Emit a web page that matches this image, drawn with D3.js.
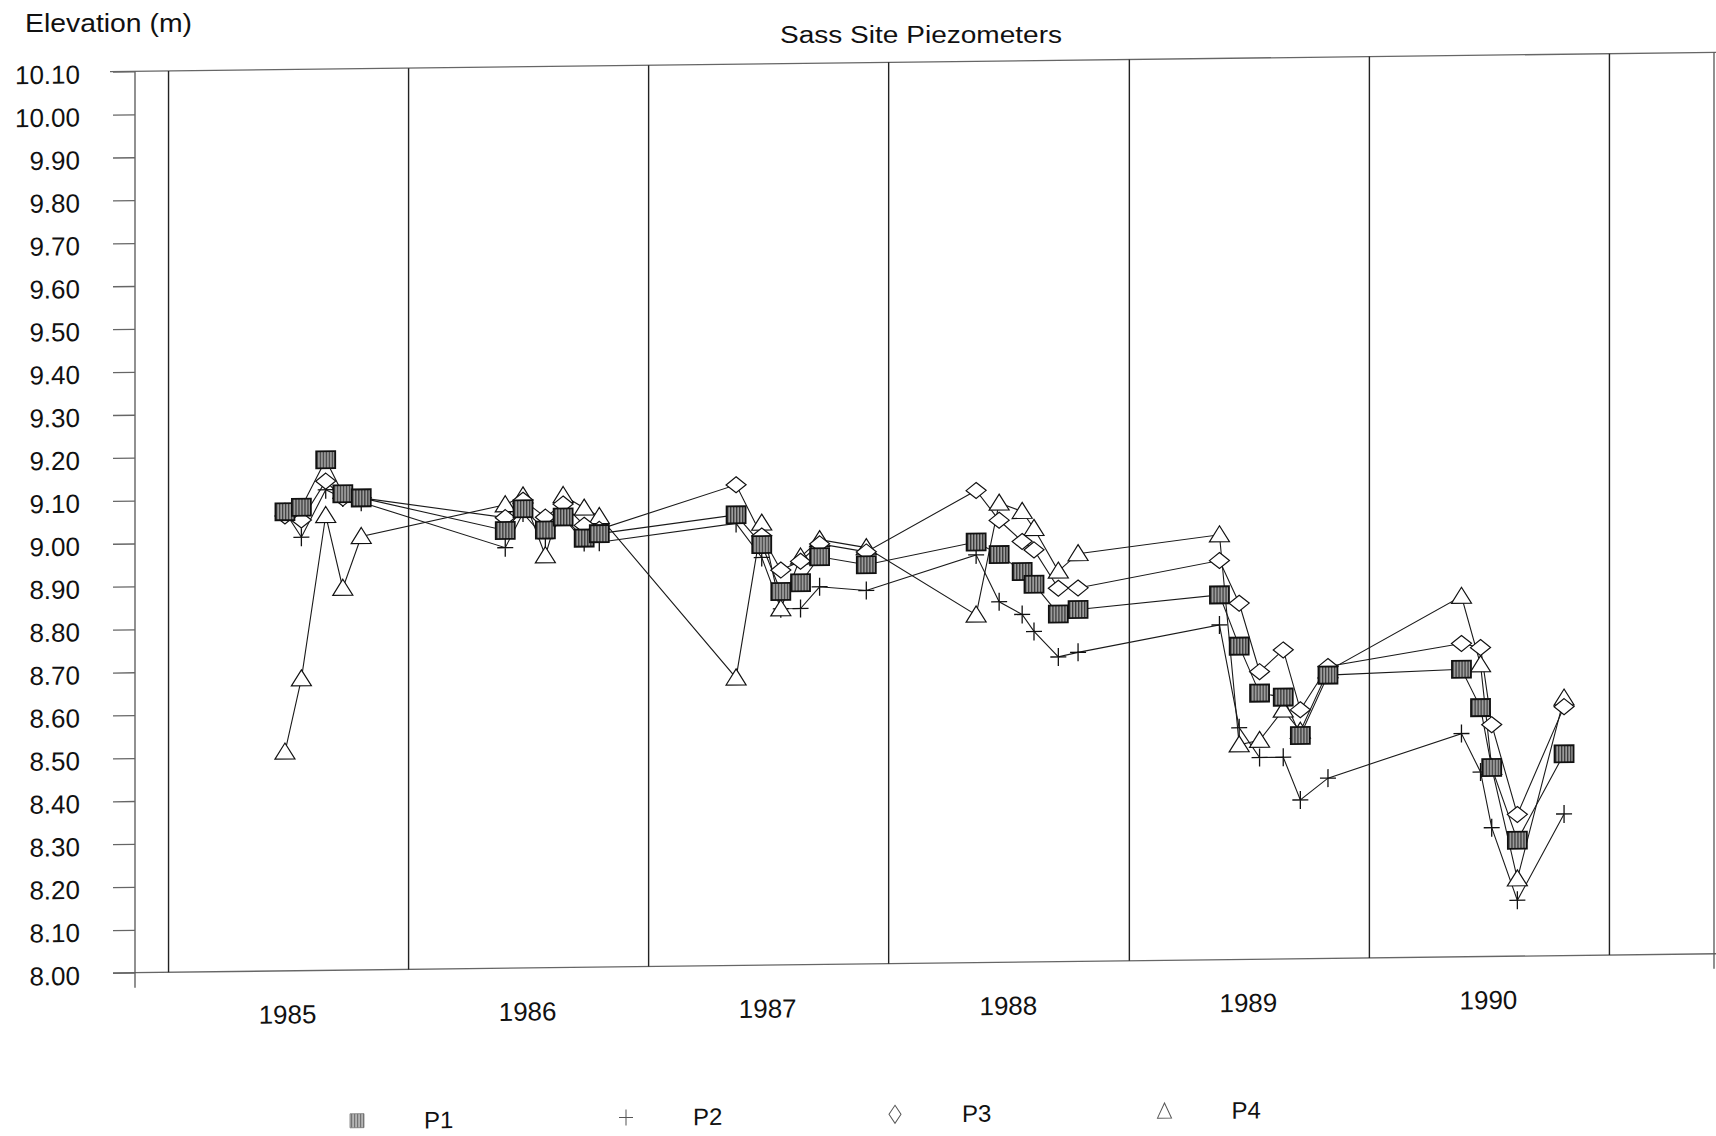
<!DOCTYPE html>
<html>
<head>
<meta charset="utf-8">
<script src="https://cdn.jsdelivr.net/npm/d3@7"></script>
<style>
  html, body { margin: 0; padding: 0; background: #fff; }
  text { font-family: "Liberation Sans", Arial, Helvetica, sans-serif; fill: #111; }
</style>
</head>
<body>
<svg id="chart" width="1716" height="1136"></svg>
<script>
// Sampling dates shared by all four piezometers
const sampleDates = [
  "1985-06-27", "1985-07-22", "1985-08-28", "1985-09-23", "1985-10-21",
  "1986-05-28", "1986-06-24", "1986-07-28", "1986-08-24", "1986-09-25", "1986-10-18",
  "1987-05-14", "1987-06-22", "1987-07-21", "1987-08-20", "1987-09-18", "1987-11-28",
  "1988-05-13", "1988-06-17", "1988-07-22", "1988-08-09", "1988-09-15", "1988-10-15",
  "1989-05-18", "1989-06-17", "1989-07-18", "1989-08-23", "1989-09-18", "1989-10-30",
  "1990-05-21", "1990-06-19", "1990-07-06", "1990-08-14", "1990-10-24"
];

// Water level elevations (m)
const p1 = [9.07, 9.08, 9.19, 9.11, 9.10,
            9.02, 9.07, 9.02, 9.05, 9.00, 9.01,
            9.05, 8.98, 8.87, 8.89, 8.95, 8.93,
            8.98, 8.95, 8.91, 8.88, 8.81, 8.82,
            8.85, 8.73, 8.62, 8.61, 8.52, 8.66,
            8.67, 8.58, 8.44, 8.27, 8.47];
const p2 = [9.07, 9.01, 9.12, 9.10, 9.09,
            8.98, 9.06, 9.00, 9.05, 8.99, 8.99,
            9.03, 8.95, 8.83, 8.83, 8.88, 8.87,
            8.95, 8.84, 8.81, 8.77, 8.71, 8.72,
            8.78, 8.54, 8.47, 8.47, 8.37, 8.42,
            8.52, 8.43, 8.30, 8.13, 8.33];
const p3 = [9.06, 9.05, 9.14, 9.10, 9.10,
            9.05, 9.09, 9.05, 9.08, 9.03, 9.02,
            9.12, 9.00, 8.92, 8.94, 8.98, 8.96,
            9.10, 9.03, 8.98, 8.96, 8.87, 8.87,
            8.93, 8.83, 8.67, 8.72, 8.58, 8.68,
            8.73, 8.72, 8.54, 8.33, 8.58];
const p4 = [8.51, 8.68, 9.06, 8.89, 9.01,
            9.08, 9.10, 8.96, 9.10, 9.07, 9.05,
            8.67, 9.03, 8.83, 8.95, 8.99, 8.97,
            8.81, 9.07, 9.05, 9.01, 8.91, 8.95,
            8.99, 8.50, 8.51, 8.58, 8.53, 8.67,
            8.84, 8.68, 8.44, 8.18, 8.60];

const seriesNames = ["P1", "P2", "P3", "P4"];
const yearLabels = ["1985", "1986", "1987", "1988", "1989", "1990"];
const yTickValues = d3.range(0, 22).map(i => +(8 + i * 0.1).toFixed(2));

const parse = d3.timeParse("%Y-%m-%d");
const dates = sampleDates.map(parse);

const svg = d3.select("#chart");
svg.append("rect").attr("width", 1716).attr("height", 1136).attr("fill", "#fff");

// Frame geometry
const plotLeft = 135, plotRight = 1714, plotTop = 71.4, plotBottom = 972.7;
const x = d3.scaleTime()
  .domain([new Date(1984, 10, 11), new Date(1991, 5, 9)])
  .range([plotLeft, plotRight]);
const y = d3.scaleLinear().domain([8.0, 10.1]).range([plotBottom, plotTop]);

// Titles (upright)
svg.append("text")
  .attr("x", 25).attr("y", 32)
  .attr("font-size", 26)
  .attr("textLength", 167).attr("lengthAdjust", "spacingAndGlyphs")
  .text("Elevation (m)");
svg.append("text")
  .attr("x", 780).attr("y", 43)
  .attr("font-size", 23)
  .attr("textLength", 282).attr("lengthAdjust", "spacingAndGlyphs")
  .text("Sass Site Piezometers");

// The plotting sheet leans slightly: everything else sits in a sheared group
const slope = -0.012;
const g = svg.append("g")
  .attr("transform", `matrix(1, ${slope}, 0, 1, 0, ${-slope * plotLeft})`);

// Marker fill textures
const defs = svg.append("defs");
const pat = defs.append("pattern")
  .attr("id", "stipple").attr("patternUnits", "userSpaceOnUse")
  .attr("width", 3).attr("height", 3);
pat.append("rect").attr("width", 3).attr("height", 3).attr("fill", "#9c9c9c");
pat.append("rect").attr("width", 1.2).attr("height", 3).attr("fill", "#3a3a3a");
const patL = defs.append("pattern")
  .attr("id", "stippleLight").attr("patternUnits", "userSpaceOnUse")
  .attr("width", 3).attr("height", 3);
patL.append("rect").attr("width", 3).attr("height", 3).attr("fill", "#b4b4b4");
patL.append("rect").attr("width", 1).attr("height", 3).attr("fill", "#6a6a6a");

// Frame lines
g.append("line").attr("x1", 110).attr("x2", 1716).attr("y1", plotTop).attr("y2", plotTop)
  .attr("stroke", "#666").attr("stroke-width", 1.3);
g.append("line").attr("x1", 113).attr("x2", 1716).attr("y1", plotBottom).attr("y2", plotBottom)
  .attr("stroke", "#666").attr("stroke-width", 1.3);
g.append("line").attr("x1", plotLeft).attr("x2", plotLeft).attr("y1", plotTop).attr("y2", plotBottom + 15)
  .attr("stroke", "#555").attr("stroke-width", 1.3);
g.append("line").attr("x1", plotRight).attr("x2", plotRight).attr("y1", plotTop).attr("y2", plotBottom + 15)
  .attr("stroke", "#555").attr("stroke-width", 1.3);

// Year boundaries
const yearStarts = d3.timeYear.range(new Date(1985, 0, 1), new Date(1991, 0, 2));
g.selectAll("line.year").data(yearStarts).join("line")
  .attr("class", "year")
  .attr("x1", d => x(d)).attr("x2", d => x(d))
  .attr("y1", plotTop).attr("y2", plotBottom)
  .attr("stroke", "#222").attr("stroke-width", 1.4);

// Y axis
const yAxis = d3.axisLeft(y)
  .tickValues(yTickValues)
  .tickFormat(d3.format(".2f"))
  .tickSize(22)
  .tickPadding(33);
const ya = g.append("g").attr("transform", `translate(${plotLeft},0)`).call(yAxis);
ya.select(".domain").remove();
ya.selectAll(".tick line").attr("stroke", "#666").attr("stroke-width", 1.3);
ya.selectAll(".tick text")
  .attr("font-size", 26)
  .attr("font-family", "'Liberation Sans', Arial, sans-serif")
  .attr("fill", "#111")
  .attr("dy", "0.42em");

// Year labels centred in each year band
g.selectAll("text.yr").data(yearLabels).join("text")
  .attr("class", "yr")
  .attr("x", d => x(new Date(+d, 6, 1)))
  .attr("y", 1025.3)
  .attr("text-anchor", "middle")
  .attr("font-size", 26)
  .text(d => d);

// Series lines
const values = [p1, p2, p3, p4];
const series = values.map((vals, i) => ({
  name: seriesNames[i],
  points: vals.map((v, j) => ({ date: dates[j], v }))
}));
const line = d3.line().defined(d => d.v != null).x(d => x(d.date)).y(d => y(d.v));
g.selectAll("path.series").data(series).join("path")
  .attr("class", "series")
  .attr("d", d => line(d.points))
  .attr("fill", "none")
  .attr("stroke", "#1a1a1a")
  .attr("stroke-width", 1.1);

// Marker shapes
const markerPath = {
  P2: "M-8,0H8M0,-9V9",
  P3: "M0,-8L10,0L0,8L-10,0Z",
  P4: "M0,-9L10,7L-10,7Z"
};
function drawMarkers(name) {
  const s = series.find(d => d.name === name);
  const sel = g.append("g").attr("class", "markers-" + name)
    .selectAll("g").data(s.points.filter(d => d.v != null)).join("g")
    .attr("transform", d => `translate(${x(d.date)},${y(d.v)})`);
  if (name === "P1") {
    sel.append("rect").attr("x", -9.5).attr("y", -8.5).attr("width", 19).attr("height", 17)
      .attr("fill", "url(#stipple)").attr("stroke", "#111").attr("stroke-width", 1.8);
  } else if (name === "P2") {
    sel.append("path").attr("d", markerPath.P2).attr("fill", "none")
      .attr("stroke", "#111").attr("stroke-width", 1.3);
  } else {
    sel.append("path").attr("d", markerPath[name]).attr("fill", "#fff")
      .attr("stroke", "#111").attr("stroke-width", 1.2);
  }
}
["P2", "P4", "P3", "P1"].forEach(n => drawMarkers(n));

// Legend
const legendX = [357, 626, 895, 1164.5];
const legendY = 1123.4;
const lg = g.selectAll("g.legend").data(seriesNames).join("g")
  .attr("class", "legend")
  .attr("transform", (d, i) => `translate(${legendX[i]},${legendY})`);
lg.each(function(d) {
  const el = d3.select(this);
  if (d === "P1") {
    el.append("rect").attr("x", -7).attr("y", -7).attr("width", 14).attr("height", 14)
      .attr("fill", "url(#stippleLight)").attr("stroke", "#777").attr("stroke-width", 0.8);
  } else if (d === "P2") {
    el.append("path").attr("d", "M-7,0H7M0,-8V8").attr("stroke", "#555").attr("stroke-width", 1);
  } else if (d === "P3") {
    el.append("path").attr("d", "M0,-9L6,0L0,9L-6,0Z").attr("fill", "#fff")
      .attr("stroke", "#555").attr("stroke-width", 1);
  } else {
    el.append("path").attr("d", "M0,-8L7,7L-7,7Z").attr("fill", "#fff")
      .attr("stroke", "#555").attr("stroke-width", 1);
  }
  el.append("text").attr("x", 67).attr("y", 8.5).attr("font-size", 24).text(d);
});
</script>
</body>
</html>
